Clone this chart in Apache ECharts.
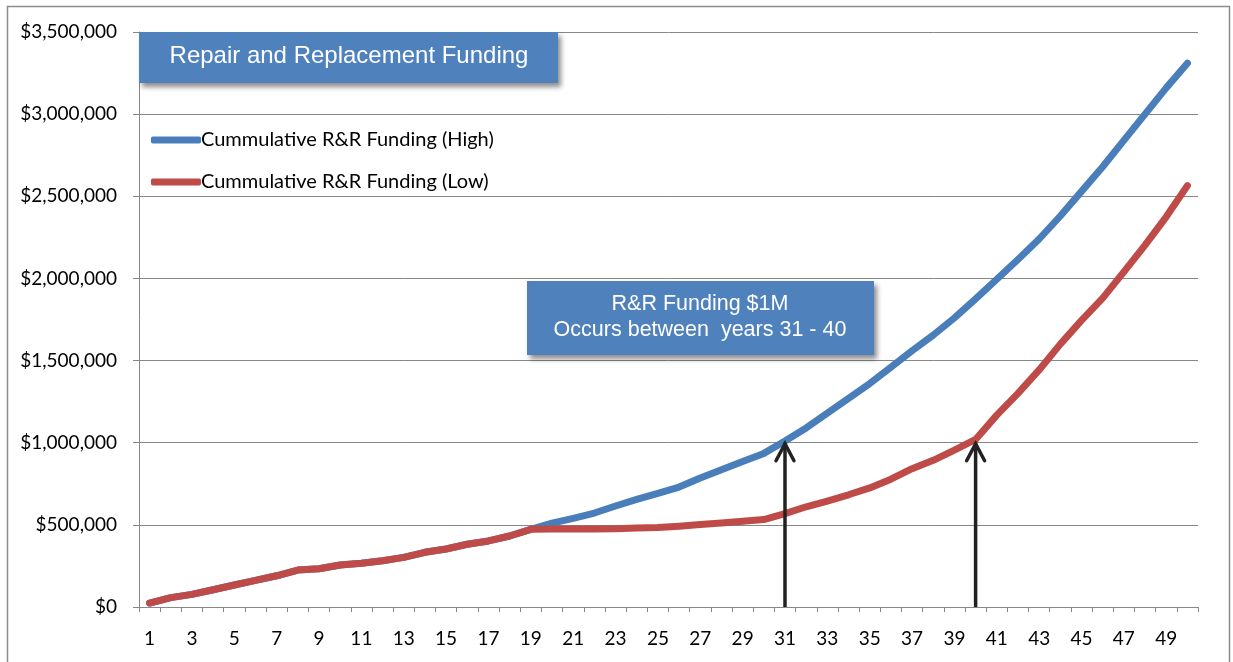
<!DOCTYPE html>
<html>
<head>
<meta charset="utf-8">
<script src="https://cdn.jsdelivr.net/npm/echarts@6/dist/echarts.min.js"></script>
<style>
html,body{margin:0;padding:0;background:#fff;}
#chart{width:1233px;height:662px;}
</style>
</head>
<body>
<div id="chart"></div>
<script>
// ---- data ----
const years = ['1','2','3','4','5','6','7','8','9','10','11','12','13','14','15','16','17','18','19','20',
  '21','22','23','24','25','26','27','28','29','30','31','32','33','34','35','36','37','38','39','40',
  '41','42','43','44','45','46','47','48','49','50'];
const highFunding = [24000, 57000, 77000, 105000, 134000, 162000, 190000, 225000, 233000, 256000,
  266000, 282000, 302000, 333000, 353000, 382000, 402000, 432000, 473000, 510000,
  540000, 572000, 615000, 655000, 692000, 730000, 785000, 835000, 885000, 935000,
  1010000, 1090000, 1180000, 1270000, 1360000, 1460000, 1560000, 1655000, 1760000, 1875000,
  1995000, 2115000, 2240000, 2380000, 2530000, 2680000, 2840000, 3000000, 3160000, 3310000];
const lowFunding = [24000, 57000, 77000, 105000, 134000, 162000, 190000, 225000, 233000, 256000,
  266000, 282000, 302000, 333000, 353000, 382000, 402000, 432000, 473000, 475000,
  475000, 475000, 477000, 481000, 484000, 492000, 502000, 512000, 522000, 532000,
  568000, 610000, 645000, 683000, 725000, 778000, 842000, 893000, 955000, 1020000,
  1168000, 1300000, 1443000, 1600000, 1745000, 1880000, 2040000, 2203000, 2375000, 2565000];
const seriesNames = ['Cummulative R&R Funding (High)', 'Cummulative R&R Funding (Low)'];
const yTicks = [0, 500000, 1000000, 1500000, 2000000, 2500000, 3000000, 3500000];
const titleText = 'Repair and Replacement Funding';
const noteLines = ['R&R Funding $1M', 'Occurs between  years 31 - 40'];
// arrows: [category index, value] from -> to
const arrowFrom = [[30, 0], [38.85, 0]];
const arrowTo = [[30.05, 1000000], [39, 1000000]];

// ---- chart ----
const chart = echarts.init(document.getElementById('chart'), null, {renderer: 'canvas'});
const gridCol = '#878787';
const labelFont = 'Lato';

const option = {
  animation: false,
  backgroundColor: '#fff',
  grid: {left: 139, right: 35, top: 32, bottom: 55, containLabel: false},
  legend: {
    orient: 'vertical',
    left: 146, top: 125,
    itemWidth: 50, itemHeight: 7, itemGap: 22,
    icon: 'roundRect',
    data: seriesNames,
    textStyle: {fontFamily: labelFont, fontSize: 20, color: '#000', padding: [0,0,0,-5]}
  },
  xAxis: {
    type: 'category',
    data: years,
    boundaryGap: true,
    axisLine: {lineStyle: {color: gridCol, width: 1}},
    axisTick: {show: true, alignWithLabel: false, interval: 0, length: 5, lineStyle: {color: gridCol}},
    axisLabel: {interval: 1, margin: 22, fontFamily: labelFont, fontSize: 19, color: '#000'},
    splitLine: {show: false}
  },
  yAxis: {
    type: 'value',
    min: yTicks[0], max: yTicks[yTicks.length-1], interval: yTicks[1]-yTicks[0],
    axisLine: {show: true, lineStyle: {color: gridCol, width: 1}},
    axisTick: {show: true, length: 6, lineStyle: {color: gridCol}},
    axisLabel: {margin: 22, fontFamily: labelFont, fontSize: 19, color: '#000',
      formatter: v => '$' + v.toLocaleString('en-US')},
    splitLine: {show: true, lineStyle: {color: gridCol, width: 1}}
  },
  series: [
    {name: seriesNames[0], type: 'line', data: highFunding, showSymbol: false, symbol: 'none',
     z: 3, lineStyle: {color: '#4A7EBB', width: 7, cap: 'round', join: 'round'}, itemStyle: {color: '#4A7EBB'}},
    {name: seriesNames[1], type: 'line', data: lowFunding, showSymbol: false, symbol: 'none',
     z: 4, lineStyle: {color: '#BE4B48', width: 7, cap: 'round', join: 'round'}, itemStyle: {color: '#BE4B48'}}
  ]
};
chart.setOption(option);

// ---- annotations ----
const graphics = [];
// outer chart border
graphics.push({type: 'rect', shape: {x: 7.5, y: 6.5, width: 1222, height: 700}, z: 0,
  style: {fill: null, stroke: '#8c8c8c', lineWidth: 1.5}, silent: true});
// title box
graphics.push({type: 'rect', shape: {x: 139, y: 32, width: 419, height: 51}, z: 20,
  style: {fill: '#4F81BD', shadowBlur: 5, shadowOffsetX: 3, shadowOffsetY: 4, shadowColor: 'rgba(0,0,0,0.45)'}});
graphics.push({type: 'text', x: 349, y: 56, z: 21,
  style: {text: titleText, fill: '#fff', font: '24px "Liberation Sans"', textAlign: 'center', textVerticalAlign: 'middle'}});
// note box
graphics.push({type: 'rect', shape: {x: 527, y: 281, width: 347, height: 74}, z: 20,
  style: {fill: '#4F81BD', shadowBlur: 5, shadowOffsetX: 3, shadowOffsetY: 4, shadowColor: 'rgba(0,0,0,0.45)'}});
graphics.push({type: 'text', x: 700, y: 304, z: 21,
  style: {text: noteLines[0], fill: '#fff', font: '21.5px "Liberation Sans"', textAlign: 'center', textVerticalAlign: 'middle'}});
graphics.push({type: 'text', x: 700, y: 330, z: 21,
  style: {text: noteLines[1], fill: '#fff', font: '21.5px "Liberation Sans"', textAlign: 'center', textVerticalAlign: 'middle'}});
// arrows
for (let i = 0; i < arrowFrom.length; i++) {
  const p0 = chart.convertToPixel({gridIndex: 0}, arrowFrom[i]);
  const p1 = chart.convertToPixel({gridIndex: 0}, arrowTo[i]);
  graphics.push({type: 'polyline', z: 30, shape: {points: [p0, p1]},
    style: {stroke: '#222', lineWidth: 3.5, lineCap: 'butt', fill: null}});
  graphics.push({type: 'polyline', z: 30,
    shape: {points: [[p1[0]-9, p1[1]+18], [p1[0], p1[1]+1], [p1[0]+9, p1[1]+18]]},
    style: {stroke: '#222', lineWidth: 3.5, lineCap: 'round', lineJoin: 'miter', fill: null}});
}
chart.setOption({graphic: graphics});
</script>
</body>
</html>
